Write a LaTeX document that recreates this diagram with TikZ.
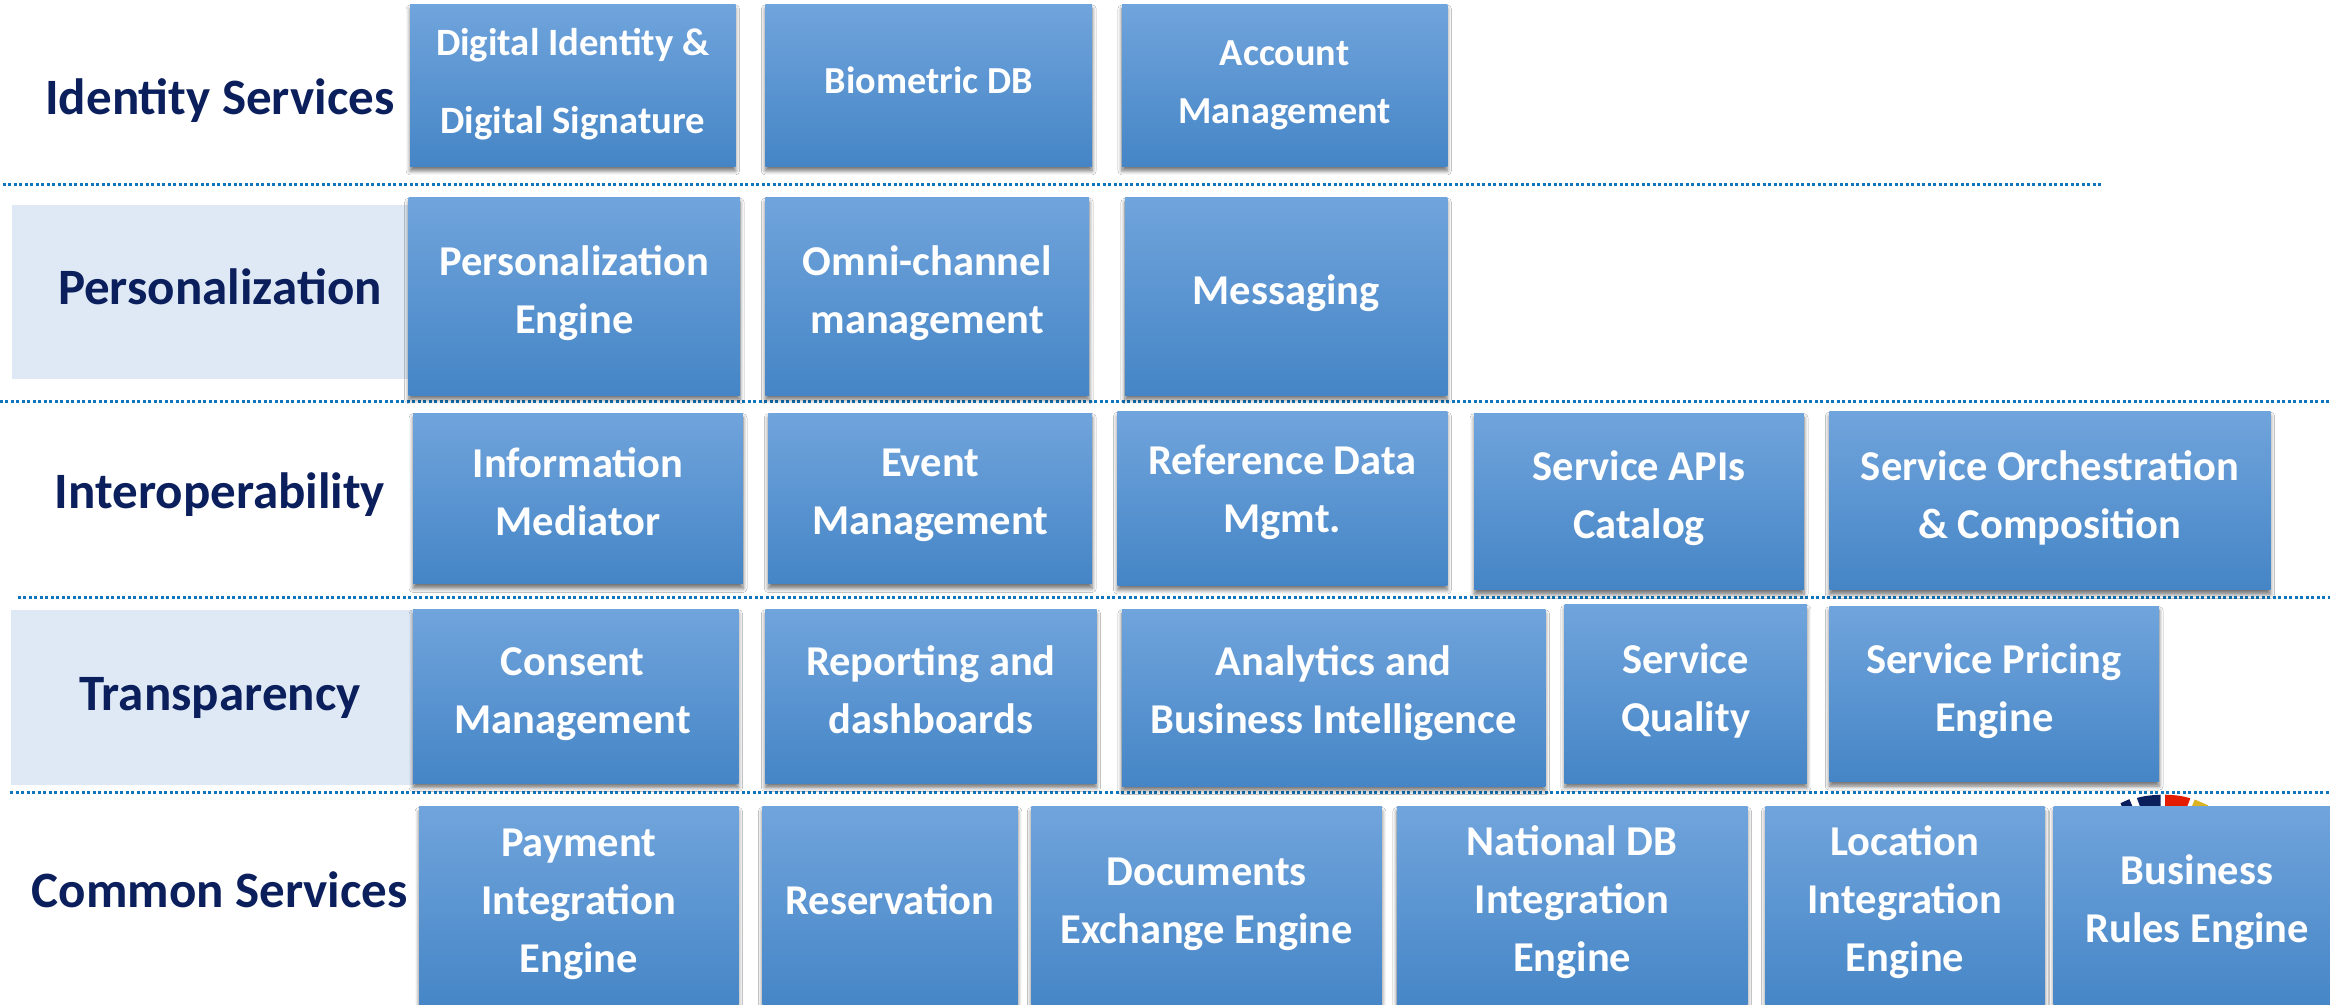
\documentclass[tikz,border=0pt]{standalone}
\usepackage{fontspec}
\setmainfont{Carlito}
\usetikzlibrary{shadows.blur,calc}
\definecolor{navy}{HTML}{0B1F5C}
\definecolor{band}{HTML}{DEE9F5}
\definecolor{rule}{HTML}{0F75BC}
\definecolor{boxtop}{HTML}{70A4DC}
\definecolor{boxmid}{HTML}{5598DC}
\definecolor{boxbot}{HTML}{4585C6}
\tikzset{
 svc/.style={rectangle,inner sep=0pt,text=white,top color=boxtop,middle color=boxmid,bottom color=boxbot,
   blur shadow={shadow xshift=0pt,shadow yshift=-4.5pt,shadow blur radius=4pt,shadow blur steps=6,shadow opacity=55},
   font=\fontsize{42.5}{58}\selectfont\bfseries},
 sect/.style={text=navy,inner sep=0pt,font=\fontsize{51}{58}\selectfont\bfseries},
 divider/.style={draw=rule,line width=3pt,dash pattern=on 3pt off 2.5pt},
 bandbox/.style={fill=band,draw=none}
}
% name, x1,y1,x2,y2 (in 1568-wide units), raise in pt, line spacing, text
\newcommand{\bx}[8]{%
 \pgfmathsetmacro\bw{(#4-#2)*1.486}\pgfmathsetmacro\bh{(#5-#3)*1.486}%
 \pgfmathsetmacro\tw{\bw-4}%
 \pgfmathsetmacro\rz{#6-6}%
 \node[svc,minimum width=\bw pt,minimum height=\bh pt] (#1) at ({(#2+#4)/2},{(#3+#5)/2})
  {\raisebox{\rz pt}[0pt][0pt]{\parbox{\tw pt}{\centering\baselineskip=#7pt #8}}};}
\begin{document}
\begin{tikzpicture}[x=1.486pt,y=-1.486pt]
\useasboundingbox (0,0) rectangle (1568,676.3);
\clip (0,0) rectangle (1568,676.3);
\fill[white] (0,0) rectangle (1568,676.3);
% logo fragment behind last box
\begin{scope}
\fill[navy] (1427,540.5) -- (1433,537.8) -- (1436,545) -- (1430,548) -- cycle;
\fill[navy] (1438,537) .. controls (1443,535.5) and (1449,535) .. (1454,534.8) -- (1454,545) -- (1441,545) -- cycle;
\fill[red!75!orange!90!black] (1457,534.8) .. controls (1463,535) and (1469,535.5) .. (1474,537.3) -- (1471,545) -- (1457,545) -- cycle;
\fill[yellow!60!orange!85!black] (1477,538) -- (1486,542) -- (1482,547) -- (1474,545) -- cycle;
\end{scope}
% bands
\node[bandbox,minimum width={267*1.486pt},minimum height={117*1.486pt},inner sep=0pt] (bandP) at (141.5,196.5) {};
\node[bandbox,minimum width={271*1.486pt},minimum height={118*1.486pt},inner sep=0pt] (bandT) at (143,469.5) {};
% dividers
\coordinate (d1a) at (2,124); \coordinate (d1b) at (1415,124);
\coordinate (d2a) at (0,270.5); \coordinate (d2b) at (1568,270.5);
\coordinate (d3a) at (12,402); \coordinate (d3b) at (1568,402);
\coordinate (d4a) at (7,533); \coordinate (d4b) at (1568,533);
\draw[divider] (d1a) -- (d1b);
\draw[divider] (d2a) -- (d2b);
\draw[divider] (d3a) -- (d3b);
\draw[divider] (d4a) -- (d4b);
% section labels
\node[sect] (sI) at (148,68) {Identity Services};
\node[sect] (sP) at (148,193) {Personalization};
\node[sect] (sO) at (148,333) {Interoperability};
\node[sect] (sT) at (148,470) {Transparency};
\node[sect] (sC) at (148,599) {Common Services};
% row 1
\bx{a1}{276}{3}{495}{112}{1}{78}{\fontsize{38.7}{78}\selectfont Digital Identity \&\\Digital Signature}
\bx{a2}{515}{3}{735}{112}{4.5}{58}{\fontsize{38.2}{58}\selectfont Biometric DB}
\bx{a3}{755}{3}{974}{112}{0}{58}{\fontsize{38.2}{58}\selectfont Account\\Management}
% row 2
\bx{b1}{275}{133}{498}{266}{3}{58}{Personalization\\Engine}
\bx{b2}{515}{133}{733}{266}{3}{58}{Omni-channel\\management}
\bx{b3}{757}{133}{974}{266}{3}{58}{Messaging}
% row 3
\bx{c1}{278}{278}{500}{393}{7}{58}{Information\\Mediator}
\bx{c2}{517}{278}{735}{393}{3}{58}{Event\\Management}
\bx{c3}{752}{277}{974}{394}{6}{58}{Reference Data\\Mgmt.}
\bx{c4}{992}{278}{1214}{397}{3}{58}{Service APIs\\Catalog}
\bx{c5}{1231}{277}{1528}{397}{3}{58}{Service Orchestration\\\& Composition}
% row 4
\bx{e1}{278}{410}{497}{527}{2}{58}{\hspace*{-6pt}Consent\\\hspace*{-6pt}Management}
\bx{e2}{515}{410}{738}{527}{6}{58}{Reporting and\\dashboards}
\bx{e3}{755}{410}{1040}{529}{4}{58}{Analytics and\\Business Intelligence}
\bx{e4}{1053}{407}{1216}{527}{3}{58}{Service\\Quality}
\bx{e5}{1231}{408}{1453}{526}{3}{58}{Service Pricing\\Engine}
% row 5
\bx{f1}{282}{543}{497}{680}{4}{58}{Payment\\Integration\\Engine}
\bx{f2}{513}{543}{685}{680}{9}{58}{Reservation}
\bx{f3}{694}{543}{930}{680}{4}{58}{Documents\\Exchange Engine}
\bx{f4}{940}{543}{1176}{680}{6}{58}{National DB\\Integration\\Engine}
\bx{f5}{1188}{543}{1376}{680}{6}{58}{Location\\Integration\\Engine}
\bx{f6}{1382}{543}{1575}{680}{6}{58}{Business\\Rules Engine}
\end{tikzpicture}
\end{document}
